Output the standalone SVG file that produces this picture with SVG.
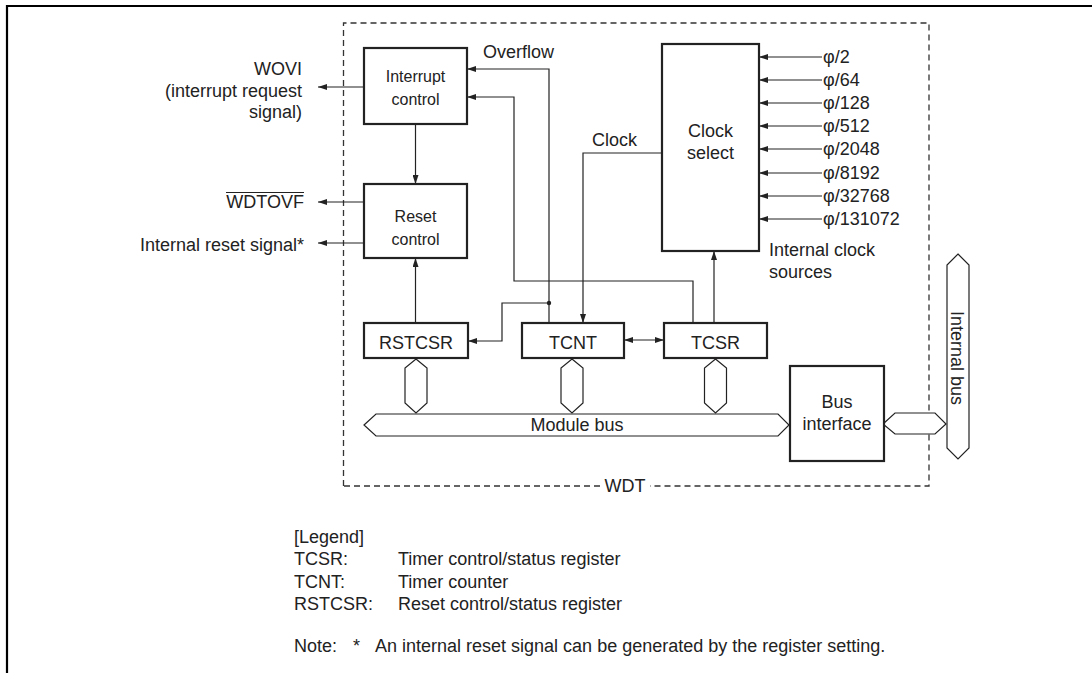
<svg xmlns="http://www.w3.org/2000/svg" width="1092" height="673" viewBox="0 0 1092 673">
<defs>
<marker id="ah" markerWidth="9" markerHeight="6" refX="9" refY="3" orient="auto" markerUnits="userSpaceOnUse">
<path d="M0,0 L9,3 L0,6 z" fill="#222"/>
</marker>
<marker id="ahs" markerWidth="9" markerHeight="6" refX="0" refY="3" orient="auto" markerUnits="userSpaceOnUse">
<path d="M9,0 L0,3 L9,6 z" fill="#222"/>
</marker>
<style>
text{font-family:"Liberation Sans",Arial,sans-serif;font-size:18px;fill:#222}
.sm{font-size:16px}
.mid{text-anchor:middle}
.end{text-anchor:end}
.box{fill:#fff;stroke:#222;stroke-width:2.2}
.wire{fill:none;stroke:#222;stroke-width:1.2}
.bus{fill:#fff;stroke:#222;stroke-width:1.2}
.dash{fill:none;stroke:#333;stroke-width:1.3;stroke-dasharray:6 4}
</style>
</defs>
<rect width="1092" height="673" fill="#fff"/>
<g id="frame">
<path d="M7,673 L7,6 L1092,6" fill="none" stroke="#000" stroke-width="2.2"/>
</g>
<g id="wdt">
<path class="dash" d="M343.5,486 L343.5,23 L929,23 L929,486 L650,486"/>
<path class="dash" d="M600,486 L343.5,486"/>
<text x="625" y="492" class="mid">WDT</text>
</g>
<g id="connectors">
<path class="wire" d="M364,87 L318,87" marker-end="url(#ah)"/>
<path class="wire" d="M415.5,124 L415.5,184" marker-end="url(#ah)"/>
<path class="wire" d="M364,202 L318,202" marker-end="url(#ah)"/>
<path class="wire" d="M364,243 L318,243" marker-end="url(#ah)"/>
<path class="wire" d="M415.5,323 L415.5,258" marker-end="url(#ah)"/>
<path class="wire" d="M549,323 L549,69 L467,69" marker-end="url(#ah)"/>
<path class="wire" d="M549,303 L502,303 L502,341 L468,341" marker-end="url(#ah)"/>
<circle cx="549" cy="303" r="2.2" fill="#222"/>
<path class="wire" d="M693,323 L693,281 L514,281 L514,97 L467,97" marker-end="url(#ah)"/>
<path class="wire" d="M662,153 L583,153 L583,323" marker-end="url(#ah)"/>
<path class="wire" d="M624,340 L664,340" marker-start="url(#ahs)" marker-end="url(#ah)"/>
<path class="wire" d="M714,323 L714,251" marker-end="url(#ah)"/>
<path class="wire" d="M822,57 L759,57" marker-end="url(#ah)"/>
<path class="wire" d="M822,80 L759,80" marker-end="url(#ah)"/>
<path class="wire" d="M822,103 L759,103" marker-end="url(#ah)"/>
<path class="wire" d="M822,126 L759,126" marker-end="url(#ah)"/>
<path class="wire" d="M822,149 L759,149" marker-end="url(#ah)"/>
<path class="wire" d="M822,173 L759,173" marker-end="url(#ah)"/>
<path class="wire" d="M822,196 L759,196" marker-end="url(#ah)"/>
<path class="wire" d="M822,219 L759,219" marker-end="url(#ah)"/>
<polygon class="bus" points="416,359 427,368 427,403 416,413 405,403 405,368"/>
<polygon class="bus" points="572,359 583,368 583,403 572,413 561,403 561,368"/>
<polygon class="bus" points="715.5,359 726.5,368 726.5,403 715.5,413 704.5,403 704.5,368"/>
<polygon class="bus" points="883,424 895,413 935,413 946,424 935,434 895,434"/>
</g>
<g id="labels">
<text x="302" y="75" class="end">WOVI</text>
<text x="302" y="97" class="end">(interrupt request</text>
<text x="302" y="118" class="end">signal)</text>
<text x="304" y="208" class="end">WDTOVF</text>
<line x1="226" y1="192.5" x2="304" y2="192.5" stroke="#222" stroke-width="1.2"/>
<text x="304" y="251" class="end">Internal reset signal*</text>
<text x="483" y="58">Overflow</text>
<text x="592" y="146">Clock</text>
<text x="823" y="63">φ/2</text>
<text x="823" y="86">φ/64</text>
<text x="823" y="109">φ/128</text>
<text x="823" y="132">φ/512</text>
<text x="823" y="155">φ/2048</text>
<text x="823" y="179">φ/8192</text>
<text x="823" y="202">φ/32768</text>
<text x="823" y="225">φ/131072</text>
<text x="769" y="256">Internal clock</text>
<text x="769" y="278">sources</text>
</g>
<g id="interrupt-control">
<rect class="box" x="364" y="48" width="103" height="76"/>
<text x="415.5" y="82" class="mid sm">Interrupt</text>
<text x="415.5" y="105" class="mid sm">control</text>
</g>
<g id="reset-control">
<rect class="box" x="364" y="184" width="103" height="74"/>
<text x="415.5" y="222" class="mid sm">Reset</text>
<text x="415.5" y="245" class="mid sm">control</text>
</g>
<g id="clock-select">
<rect class="box" x="662" y="44" width="97" height="207"/>
<text x="710.5" y="137" class="mid">Clock</text>
<text x="710.5" y="159" class="mid">select</text>
</g>
<g id="rstcsr">
<rect class="box" x="364" y="323" width="104" height="35"/>
<text x="416" y="349" class="mid">RSTCSR</text>
</g>
<g id="tcnt">
<rect class="box" x="522" y="323" width="102" height="35"/>
<text x="573" y="349" class="mid">TCNT</text>
</g>
<g id="tcsr">
<rect class="box" x="664" y="323" width="103" height="35"/>
<text x="715.5" y="349" class="mid">TCSR</text>
</g>
<g id="module-bus">
<polygon class="bus" points="364,425 376,414 778,414 789,425 778,436 376,436"/>
<text x="577" y="431" class="mid">Module bus</text>
</g>
<g id="bus-interface">
<rect class="box" x="790" y="366" width="94" height="95"/>
<text x="837" y="408" class="mid">Bus</text>
<text x="837" y="430" class="mid">interface</text>
</g>
<g id="internal-bus">
<polygon class="bus" points="958,254 969,265 969,448 958,459 947,448 947,265"/>
<text transform="translate(951,358) rotate(90)" x="0" y="0" class="mid">Internal bus</text>
</g>
<g id="legend">
<text x="294" y="543">[Legend]</text>
<text x="294" y="565">TCSR:</text>
<text x="398" y="565">Timer control/status register</text>
<text x="294" y="588">TCNT:</text>
<text x="398" y="588">Timer counter</text>
<text x="294" y="610">RSTCSR:</text>
<text x="398" y="610">Reset control/status register</text>
<text x="294" y="652">Note:</text>
<text x="353" y="652">*</text>
<text x="375" y="652">An internal reset signal can be generated by the register setting.</text>
</g>
</svg>
